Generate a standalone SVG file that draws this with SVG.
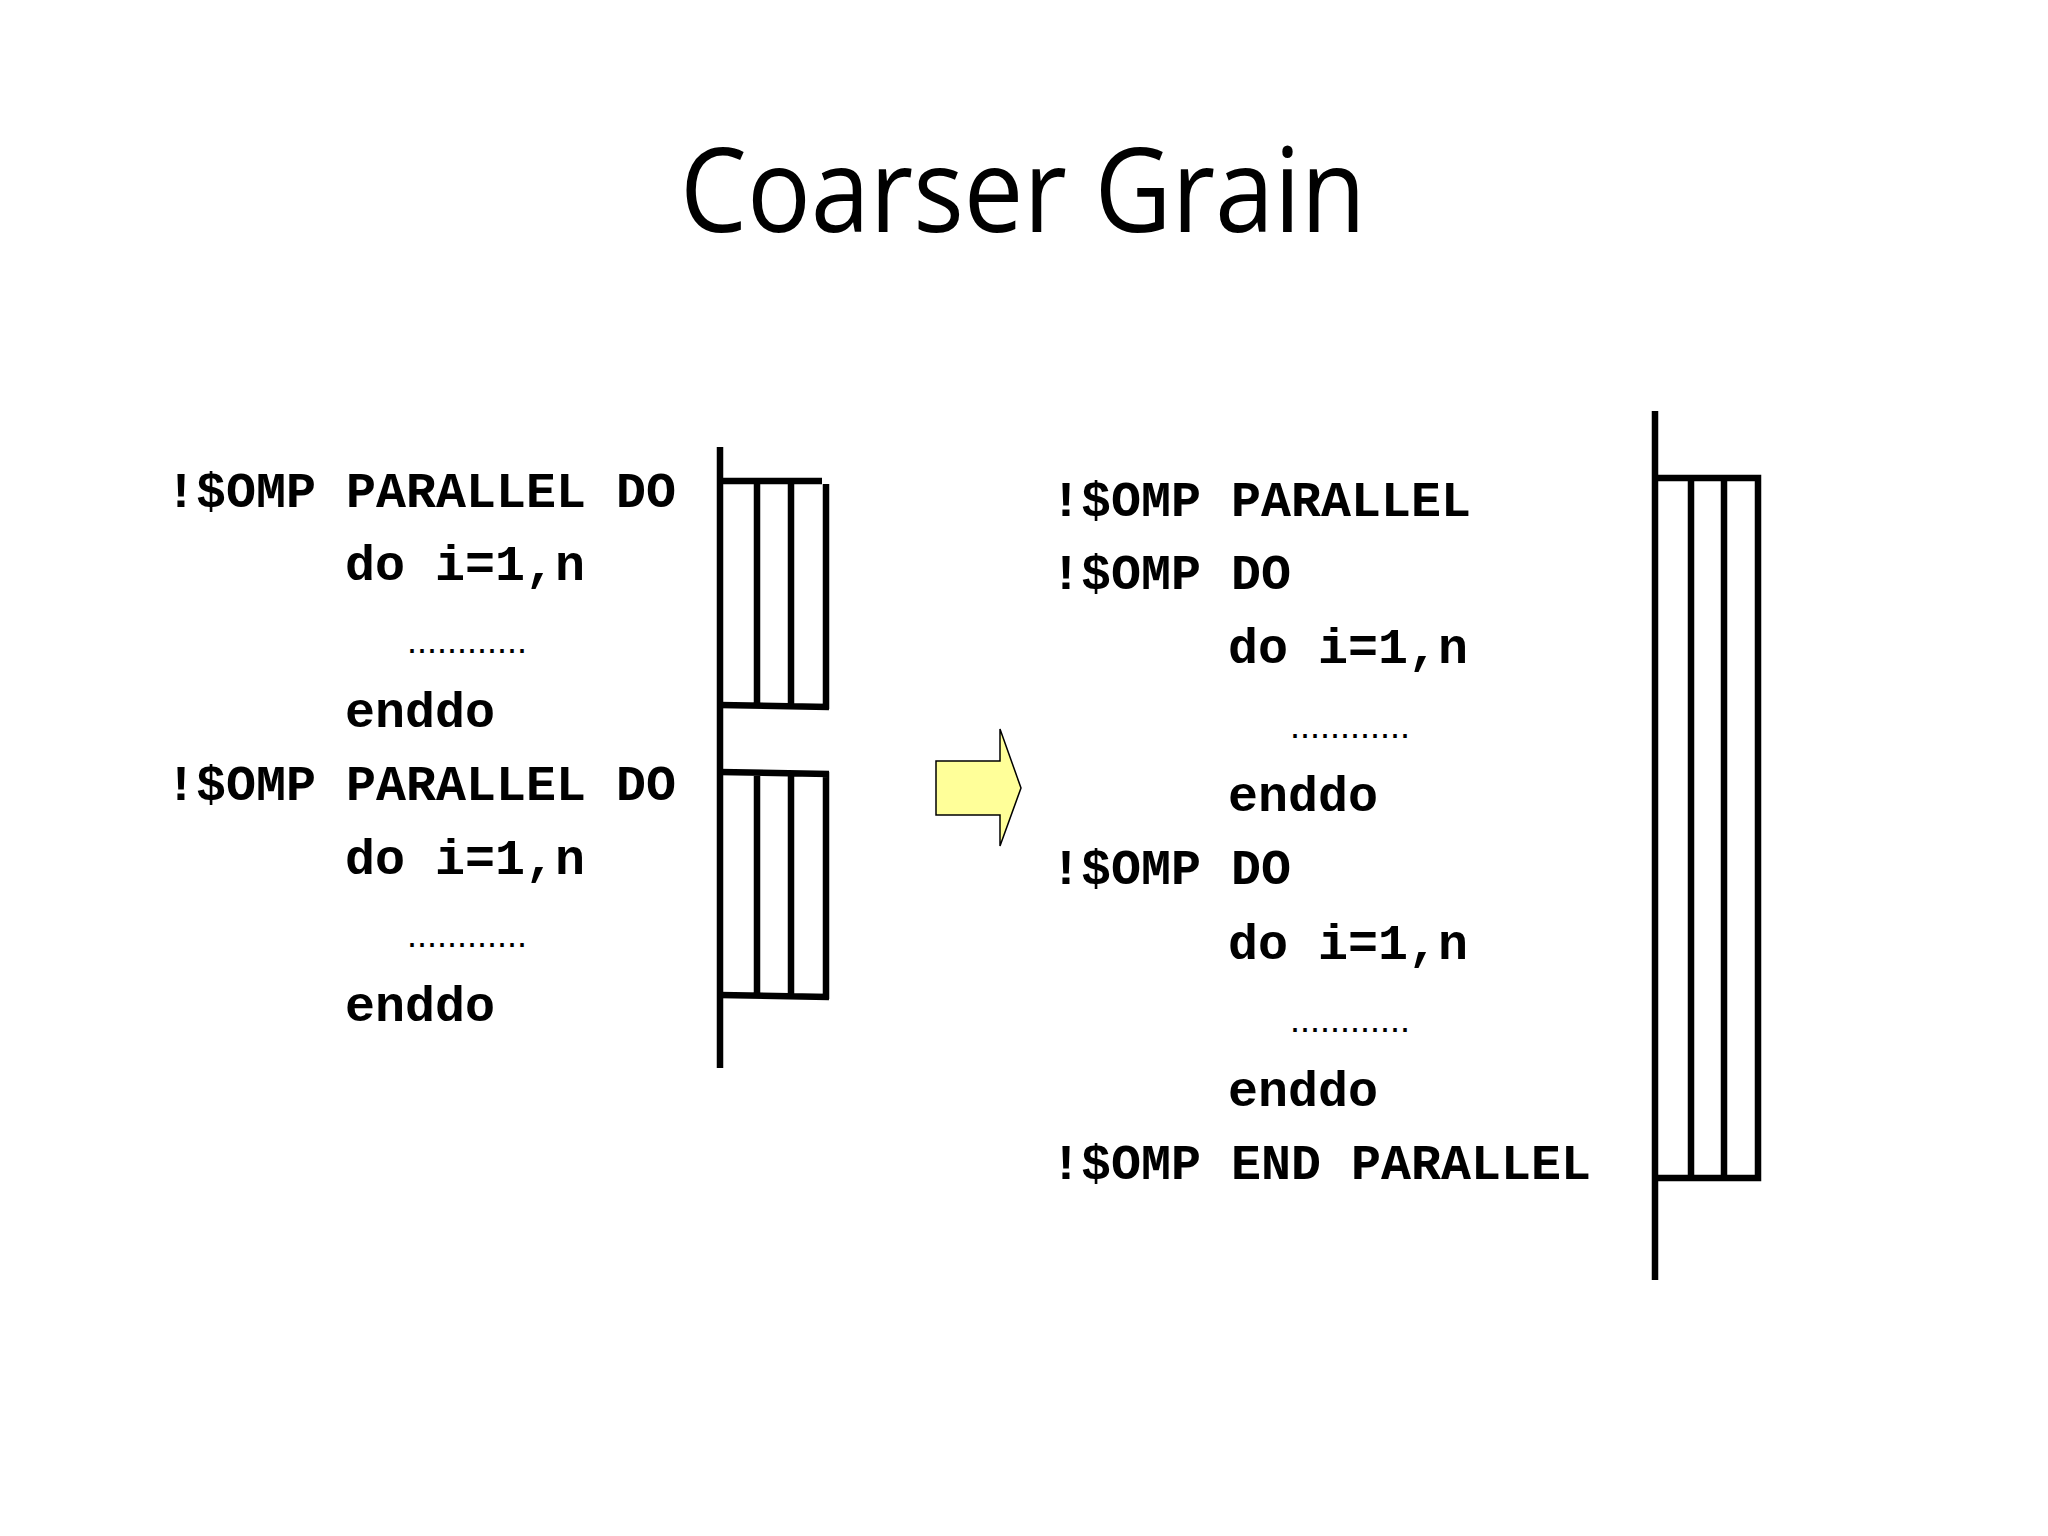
<svg xmlns="http://www.w3.org/2000/svg" width="2048" height="1536" viewBox="0 0 2048 1536">
<style>
.c{font-family:"Liberation Mono","Courier New",monospace;font-weight:bold;font-size:50px;fill:#000}
.d{font-family:"Liberation Sans",Arial,sans-serif;font-size:36px;fill:#000}
.l{fill:none;stroke:#000;stroke-width:6.5}
</style>
<rect width="2048" height="1536" fill="#fff"/>
<text x="1023" y="232" text-anchor="middle" font-family="'Open Sans',Calibri,sans-serif" font-size="118" textLength="686" lengthAdjust="spacingAndGlyphs">Coarser Grain</text>
<g id="left-code">
<text class="c" x="166" y="507">!$OMP PARALLEL DO</text>
<text class="c" x="345" y="580">do i=1,n</text>
<text class="d" x="407" y="653">............</text>
<text class="c" x="345" y="727">enddo</text>
<text class="c" x="166" y="800">!$OMP PARALLEL DO</text>
<text class="c" x="345" y="874">do i=1,n</text>
<text class="d" x="407" y="947">............</text>
<text class="c" x="345" y="1021">enddo</text>
</g>
<g id="right-code">
<text class="c" x="1051" y="516">!$OMP PARALLEL</text>
<text class="c" x="1051" y="589">!$OMP DO</text>
<text class="c" x="1228" y="663">do i=1,n</text>
<text class="d" x="1290" y="738">............</text>
<text class="c" x="1228" y="811">enddo</text>
<text class="c" x="1051" y="884">!$OMP DO</text>
<text class="c" x="1228" y="959">do i=1,n</text>
<text class="d" x="1290" y="1032">............</text>
<text class="c" x="1228" y="1106">enddo</text>
<text class="c" x="1051" y="1179">!$OMP END PARALLEL</text>
</g>
<g id="left-threads">
<line class="l" x1="720" y1="447" x2="720" y2="1068"/>
<path class="l" d="M720 481H822M826 484V709M720 705L829 707M757 481V706M791 481V706"/>
<path class="l" d="M720 772L829 774M826 772V999M720 995L829 997M757 772V996M791 772V996"/>
</g>
<g id="right-threads">
<line class="l" x1="1655" y1="411" x2="1655" y2="1280"/>
<path class="l" d="M1655 478H1758V1178H1655M1691 478V1178M1724 478V1178"/>
</g>
<g id="connectors">
<path d="M936 761H1000V729L1021 788L1000 846V815H936Z" fill="#ffff99" stroke="#000" stroke-width="1.5"/>
</g>
</svg>
